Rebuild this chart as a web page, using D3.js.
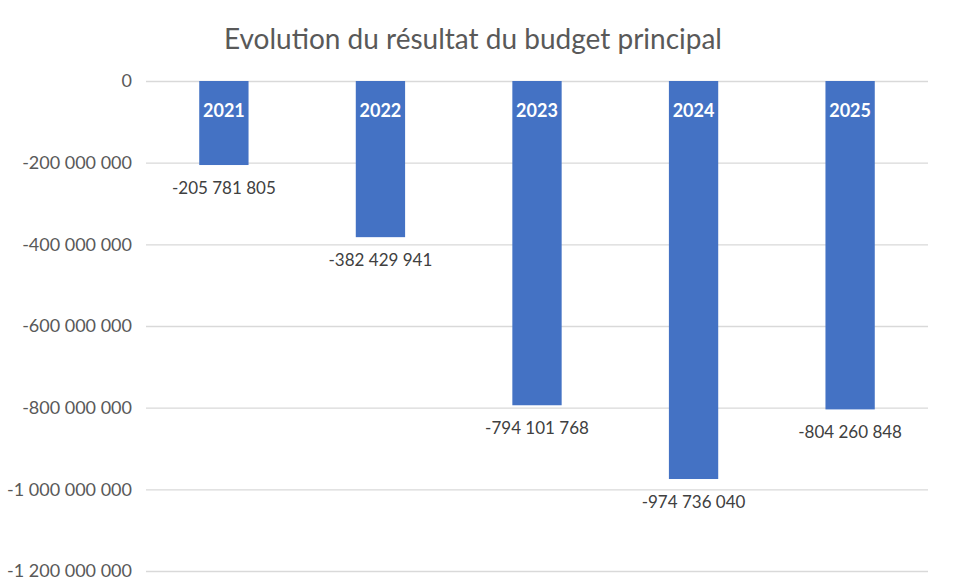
<!DOCTYPE html>
<html>
<head>
<meta charset="utf-8">
<script src="https://cdn.jsdelivr.net/npm/d3@7"></script>
<style>
  body { margin: 0; background: #fff; }
  text { font-family: Lato, "Open Sans", sans-serif; }
</style>
</head>
<body>
<div id="chart"></div>
<script>
var width = 968;
var height = 584;

var years = ['2021', '2022', '2023', '2024', '2025'];
var results = [-205781805, -382429941, -794101768, -974736040, -804260848];
var yTicks = [0, -200000000, -400000000, -600000000, -800000000, -1000000000, -1200000000];

var margin = {top: 81, right: 40, bottom: 13, left: 146};

var fr = d3.formatLocale({decimal: ",", thousands: " ", grouping: [3], currency: ["", " €"], minus: "-"});
var fmt = fr.format(",d");

var svg = d3.select("#chart")
            .append("svg")
            .attr("width", width)
            .attr("height", height);

var x = d3.scaleBand()
    .domain(years)
    .range([margin.left, width - margin.right])
    .paddingInner(0.685)
    .paddingOuter(0.34);

var y = d3.scaleLinear()
    .domain([0, -1200000000])
    .range([margin.top, height - margin.bottom]);

// title
svg.append("text")
    .attr("x", 473)
    .attr("y", 49)
    .attr("text-anchor", "middle")
    .attr("fill", "#595959")
    .style("font-size", "28px")
    .text("Evolution du résultat du budget principal");

// gridlines
svg.append("g")
    .selectAll("line")
    .data(yTicks)
    .enter()
    .append("line")
    .attr("x1", margin.left)
    .attr("x2", width - margin.right)
    .attr("y1", function(d) { return y(d) + 0.5; })
    .attr("y2", function(d) { return y(d) + 0.5; })
    .attr("stroke", "#d9d9d9")
    .attr("stroke-width", 1.3);

// y axis labels
var yAxis = d3.axisLeft(y)
    .tickValues(yTicks)
    .tickSize(0)
    .tickPadding(12)
    .tickFormat(fmt);

var ga = svg.append("g")
    .attr("transform", "translate(" + (margin.left - 2) + ",0)")
    .call(yAxis);
ga.select(".domain").remove();
ga.selectAll("text")
    .attr("fill", "#595959")
    .style("font-size", "18px")
    .style("font-family", "Lato, 'Open Sans', sans-serif");

// bars
svg.append("g")
    .selectAll("rect")
    .data(results)
    .enter()
    .append("rect")
    .attr("x", function(d, i) { return x(years[i]); })
    .attr("y", y(0))
    .attr("width", x.bandwidth())
    .attr("height", function(d) { return y(d) - y(0); })
    .attr("fill", "#4472c4");

// year labels inside bars
svg.append("g")
    .selectAll("text")
    .data(years)
    .enter()
    .append("text")
    .attr("x", function(d) { return x(d) + x.bandwidth() / 2; })
    .attr("y", y(0) + 36)
    .attr("text-anchor", "middle")
    .attr("fill", "#fff")
    .style("font-size", "18px")
    .style("font-weight", "bold")
    .text(function(d) { return d; });

// value labels under bars
svg.append("g")
    .selectAll("text")
    .data(results)
    .enter()
    .append("text")
    .attr("x", function(d, i) { return x(years[i]) + x.bandwidth() / 2; })
    .attr("y", function(d) { return y(d) + 29; })
    .attr("text-anchor", "middle")
    .attr("fill", "#404040")
    .style("font-size", "17px")
    .text(function(d) { return fmt(d); });
</script>
</body>
</html>
